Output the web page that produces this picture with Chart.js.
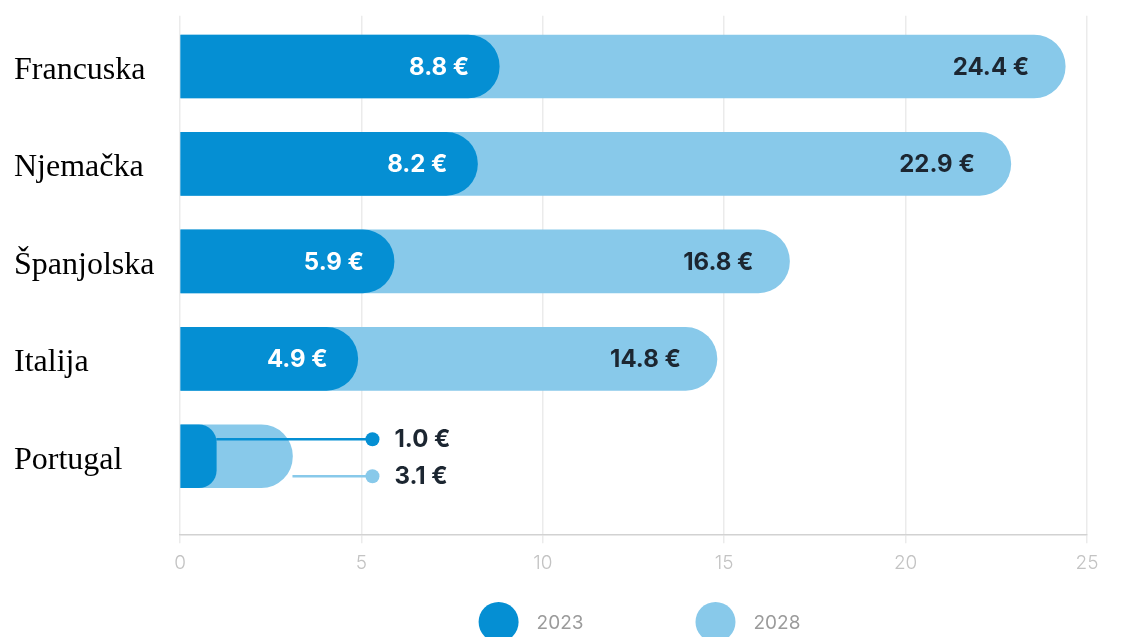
<!DOCTYPE html>
<html>
<head>
<meta charset="utf-8">
<script src="https://cdn.jsdelivr.net/npm/chart.js@4.4.1/dist/chart.umd.min.js"></script>
<style>
  html, body { margin: 0; padding: 0; background: #fff; }
  #wrap { width: 1122px; height: 637px; position: relative; }
</style>
</head>
<body>
<div id="wrap"><canvas id="chart"></canvas></div>
<script>
// ── Data ──────────────────────────────────────
const COUNTRIES   = ['Francuska', 'Njemačka', 'Španjolska', 'Italija', 'Portugal'];
const VALUES_2023 = [8.8, 8.2, 5.9, 4.9, 1.0];
const VALUES_2028 = [24.4, 22.9, 16.8, 14.8, 3.1];
const SERIES      = ['2023', '2028'];
const X_TICKS     = [0, 5, 10, 15, 20, 25];

// ── Styles ────────────────────────────────────
const DARK       = '#058fd3';
const LIGHT      = '#88c9ea';
const TEXT_DARK  = '#1c2631';
const VALUE_FONT = 'bold 24px Inter, "Open Sans", sans-serif';

const fmt = v => v.toFixed(1) + ' €';

// labels inside the bars, or a callout when the bars are too short
const valueLabels = {
  id: 'valueLabels',
  afterDatasetsDraw(chart) {
    const ctx   = chart.ctx;
    const dark  = chart.getDatasetMeta(0).data;
    const light = chart.getDatasetMeta(1).data;
    ctx.save();
    ctx.font = VALUE_FONT;
    ctx.textBaseline = 'middle';
    COUNTRIES.forEach((_, i) => {
      const a = dark[i], b = light[i];
      const t1 = fmt(VALUES_2023[i]), t2 = fmt(VALUES_2028[i]);
      const w1 = ctx.measureText(t1).width, w2 = ctx.measureText(t2).width;
      const fits = (a.x - a.base > w1 + 50) && (b.x - a.x > w2 + 50);
      if (fits) {
        ctx.textAlign = 'right';
        ctx.fillStyle = '#fff';
        ctx.fillText(t1, a.x - 30, a.y + 1);
        ctx.fillStyle = TEXT_DARK;
        ctx.fillText(t2, b.x - 36, b.y + 1);
        return;
      }
      const dotX = b.x + 80;
      const rows = [
        { el: a, y: a.y - 17, color: DARK,  text: t1 },
        { el: b, y: a.y + 20, color: LIGHT, text: t2 },
      ];
      rows.forEach(r => {
        ctx.strokeStyle = r.color;
        ctx.lineWidth = 2.5;
        ctx.beginPath();
        ctx.moveTo(r.el.x, r.y);
        ctx.lineTo(dotX, r.y);
        ctx.stroke();
        ctx.fillStyle = r.color;
        ctx.beginPath();
        ctx.arc(dotX, r.y, 7, 0, Math.PI * 2);
        ctx.fill();
        ctx.fillStyle = TEXT_DARK;
        ctx.textAlign = 'left';
        ctx.fillText(r.text, dotX + 22, r.y + 1);
      });
    });
    ctx.restore();
  }
};

// big round legend markers under the axis
const roundLegend = {
  id: 'roundLegend',
  afterDraw(chart) {
    const ctx = chart.ctx;
    const area = chart.chartArea;
    const colors = [DARK, LIGHT];
    const r = 20, gapText = 18, gapItem = 112;
    ctx.save();
    ctx.font = '19px Inter, "Open Sans", sans-serif';
    ctx.textBaseline = 'middle';
    const widths = SERIES.map(s => 2 * r + gapText + ctx.measureText(s).width);
    const total = widths.reduce((s, w) => s + w, 0) + gapItem * (SERIES.length - 1);
    let x = (area.left + area.right) / 2 - total / 2 + 6;
    const y = 622;
    SERIES.forEach((s, i) => {
      ctx.fillStyle = colors[i];
      ctx.beginPath();
      ctx.arc(x + r, y, r, 0, Math.PI * 2);
      ctx.fill();
      ctx.fillStyle = '#9b9b9b';
      ctx.textAlign = 'left';
      ctx.fillText(s, x + 2 * r + gapText, y + 1);
      x += widths[i] + gapItem;
    });
    ctx.restore();
  }
};

new Chart(document.getElementById('chart'), {
  type: 'bar',
  data: {
    datasets: [
      {
        label: SERIES[0],
        data: VALUES_2023.map((v, i) => ({ x: v, y: i })),
        backgroundColor: DARK,
      },
      {
        label: SERIES[1],
        data: VALUES_2028.map((v, i) => ({ x: v, y: i })),
        backgroundColor: LIGHT,
      },
    ],
  },
  options: {
    indexAxis: 'y',
    responsive: true,
    maintainAspectRatio: false,
    animation: false,
    grouped: false,
    barThickness: 63,
    borderRadius: 32,
    borderSkipped: 'start',
    layout: { padding: { left: 14, right: 35, top: 15, bottom: 53 } },
    plugins: {
      legend: { display: false },
      tooltip: { enabled: false },
    },
    scales: {
      x: {
        min: 0,
        max: 25,
        afterBuildTicks: s => { s.ticks = X_TICKS.map(v => ({ value: v })); },
        grid: { color: '#ebebeb', lineWidth: 1.5, tickLength: 8 },
        border: { color: '#d2d2d2', width: 1.5 },
        ticks: {
          color: '#c3c3c3',
          padding: 9,
          font: { family: 'Inter, "Open Sans", sans-serif', size: 19, weight: '300' },
        },
      },
      y: {
        type: 'linear',
        offset: false,
        reverse: true,
        min: -0.52,
        max: 4.81,
        afterBuildTicks: s => { s.ticks = COUNTRIES.map((_, i) => ({ value: i })); },
        afterFit: s => { s.width = 166; },
        grid: { display: false },
        border: { display: false },
        ticks: {
          crossAlign: 'far',
          labelOffset: 4,
          color: '#000',
          callback: v => COUNTRIES[v],
          font: { family: '"Liberation Serif", "Times New Roman", serif', size: 32, lineHeight: 0.8 },
        },
      },
    },
  },
  plugins: [valueLabels, roundLegend],
});
</script>
</body>
</html>
